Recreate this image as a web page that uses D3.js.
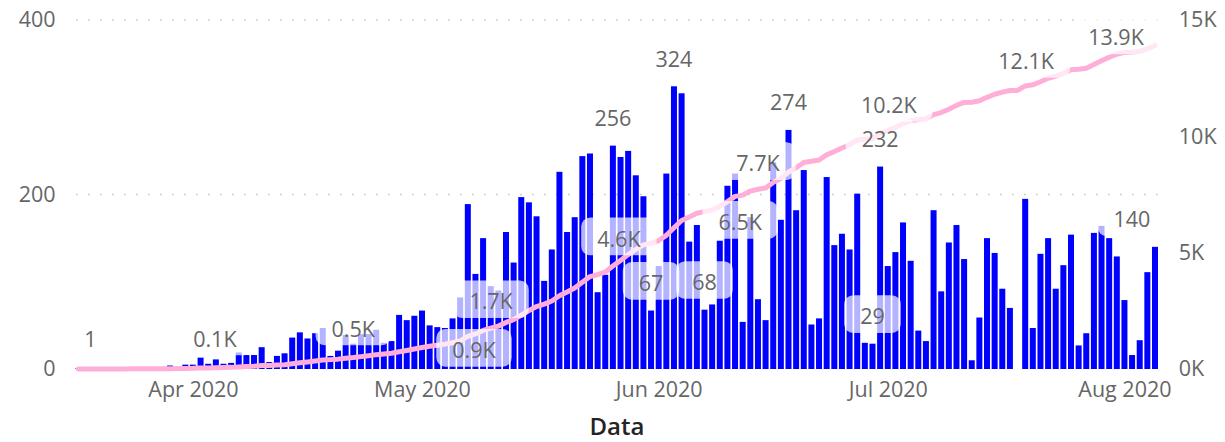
<!DOCTYPE html>
<html><head><meta charset="utf-8">
<script src="https://cdn.jsdelivr.net/npm/d3@7"></script>
<style>
html,body{margin:0;padding:0;background:#fff;}
svg{display:block;font-family:"Open Sans","Segoe UI",sans-serif;}
</style></head><body>
<svg id="chart" width="1225" height="442"></svg>
<script>
// Daily values (bars, left axis) — one array per month
const marValues = [1,0,1,0,1,1,0,2,1,2,1,2,4,1,5];                 // 17–31 Mar
const aprValues = [5,13,6,11,6,7,19,16,16,25,8,15,18,36,42,35,41,47,15,21,39,29,40,40,45,30,32,62,56,61];
const mayValues = [67,50,48,47,58,82,189,109,150,95,90,157,122,197,191,175,101,137,226,157,174,244,247,88,108,256,243,250,222,198,67];
const junValues = [118,224,324,316,146,165,68,74,147,210,224,54,174,80,56,237,171,274,182,228,51,58,220,142,155,137,201,30,29,232];
const julValues = [118,134,168,124,44,32,182,89,145,165,126,10,59,150,133,92,70,0,195,47,132,150,92,119,154,27,41,156,164,150,129];
const augValues = [79,16,33,111,140];                                 // 1–5 Aug

const monthBlocks = [[2,17,marValues],[3,1,aprValues],[4,1,mayValues],[5,1,junValues],[6,1,julValues],[7,1,augValues]];

// x tick labels (month starts)
const xTicks = ["2020-04-01","2020-05-01","2020-06-01","2020-07-01","2020-08-01"];
const leftTicks = [0,200,400];
const rightTicks = [0,5000,10000,15000];
const rightTickLabels = ["0K","5K","10K","15K"];

// data labels
const barLabels = [["2020-05-26","256"],["2020-05-31","67"],["2020-06-03","324"],["2020-06-07","68"],["2020-06-18","274"],["2020-06-29","29"],["2020-06-30","232"],["2020-08-05","140"]];
const lineLabels = [["2020-03-17","1"],["2020-04-04","0.1K"],["2020-04-22","0.5K"],["2020-05-01","0.9K"],["2020-05-09","1.7K"],["2020-05-26","4.6K"],["2020-06-05","6.5K"],["2020-06-14","7.7K"],["2020-07-01","10.2K"],["2020-07-19","12.1K"],["2020-08-05","13.9K"]];

// label placement tweaks (style, not data)
const labelShift = {"1":[12,-22],"0.1K":[-1,-21],"0.5K":[0,-21],"0.9K":[52,10.5],"1.7K":[8,-21],"4.6K":[6,-19.5],"6.5K":[51,13],"7.7K":[0,-18],"10.2K":[1,-17.5],"12.1K":[1,-17],"13.9K":[-39,0],"140":[-23,0]};

const data = [];
monthBlocks.forEach(([m,d0,vals]) => vals.forEach((v,i) => data.push({date:new Date(Date.UTC(2020,m,d0+i)), value:v})));
const cum = d3.cumsum(data, d => d.value);
data.forEach((d,i) => d.total = cum[i]);
const byKey = new Map(data.map(d => [d3.utcFormat("%Y-%m-%d")(d.date), d]));

const svg = d3.select("#chart");
const DAY = 864e5;
const x0 = 74.6, x1 = 1158.8, yTop = 20, yBase = 369;
const x = d3.scaleUtc().domain([+data[0].date - DAY/2, +data[data.length-1].date + DAY/2]).range([x0,x1]);
const yL = d3.scaleLinear().domain([0,400]).range([yBase,yTop]);
const yR = d3.scaleLinear().domain([0,15000]).range([yBase,yTop]);

const fontSize = 21.5, textCol = "#666666";

// gridlines
svg.append("g").selectAll("line").data([200,400]).join("line")
  .attr("x1",x0+1.5).attr("x2",x1).attr("y1",d=>yL(d)).attr("y2",d=>yL(d))
  .attr("stroke","#c4c4c4").attr("stroke-width",1.6).attr("stroke-dasharray","1.6 10.4");

// bars
const bw = 6;
svg.append("g").selectAll("rect").data(data.filter(d=>d.value>0)).join("rect")
  .attr("x",d=>x(d.date)-bw/2).attr("width",bw)
  .attr("y",d=>yL(d.value)).attr("height",d=>yBase-yL(d.value))
  .attr("fill","#0000ff");

// cumulative line
svg.append("path").datum(data)
  .attr("d", d3.line().x(d=>x(d.date)).y(d=>yR(d.total)))
  .attr("fill","none").attr("stroke","#ffaed8").attr("stroke-width",5)
  .attr("stroke-linejoin","round").attr("stroke-linecap","round");

// axes
const axL = svg.append("g").attr("transform",`translate(${x0},0)`)
  .call(d3.axisLeft(yL).tickValues(leftTicks).tickSize(0).tickPadding(19));
const axR = svg.append("g").attr("transform",`translate(${x1},0)`)
  .call(d3.axisRight(yR).tickValues(rightTicks).tickFormat((d,i)=>rightTickLabels[i]).tickSize(0).tickPadding(20));
const axB = svg.append("g").attr("transform",`translate(0,${yBase})`)
  .call(d3.axisBottom(x).tickValues(xTicks.map(s=>new Date(s+"T00:00:00Z"))).tickFormat(d3.utcFormat("%b %Y")).tickSize(0).tickPadding(13));
[axL,axR,axB].forEach(g=>{
  g.select(".domain").remove();
  g.selectAll("text").attr("font-size",fontSize).attr("fill",textCol).attr("font-family","Open Sans, sans-serif");
});

// axis title
svg.append("text").attr("x",617).attr("y",435).attr("text-anchor","middle")
  .attr("font-size",24).attr("font-weight",600).attr("fill","#252423").text("Data");

// data labels with translucent boxes
const labelG = svg.append("g");
function addLabel(cx, base, txt){
  const g = labelG.append("g");
  const r = g.append("rect");
  const t = g.append("text").attr("x",cx).attr("y",base).attr("text-anchor","middle")
    .attr("font-size",fontSize).attr("fill",textCol).text(txt);
  const w = t.node().getComputedTextLength() + 32;
  r.attr("x",cx-w/2).attr("y",base-29).attr("width",w).attr("height",37.7).attr("rx",9)
   .attr("fill","#ffffff").attr("fill-opacity",0.7);
}
barLabels.forEach(([k,txt])=>{
  const d = byKey.get(k); const s = labelShift[txt] || [0,0];
  addLabel(x(d.date)+s[0], yL(d.value)-19.5+s[1], txt);
});
lineLabels.forEach(([k,txt])=>{
  const d = byKey.get(k); const s = labelShift[txt] || [0,-20];
  addLabel(x(d.date)+s[0], yR(d.total)+s[1], txt);
});
</script>
</body></html>
